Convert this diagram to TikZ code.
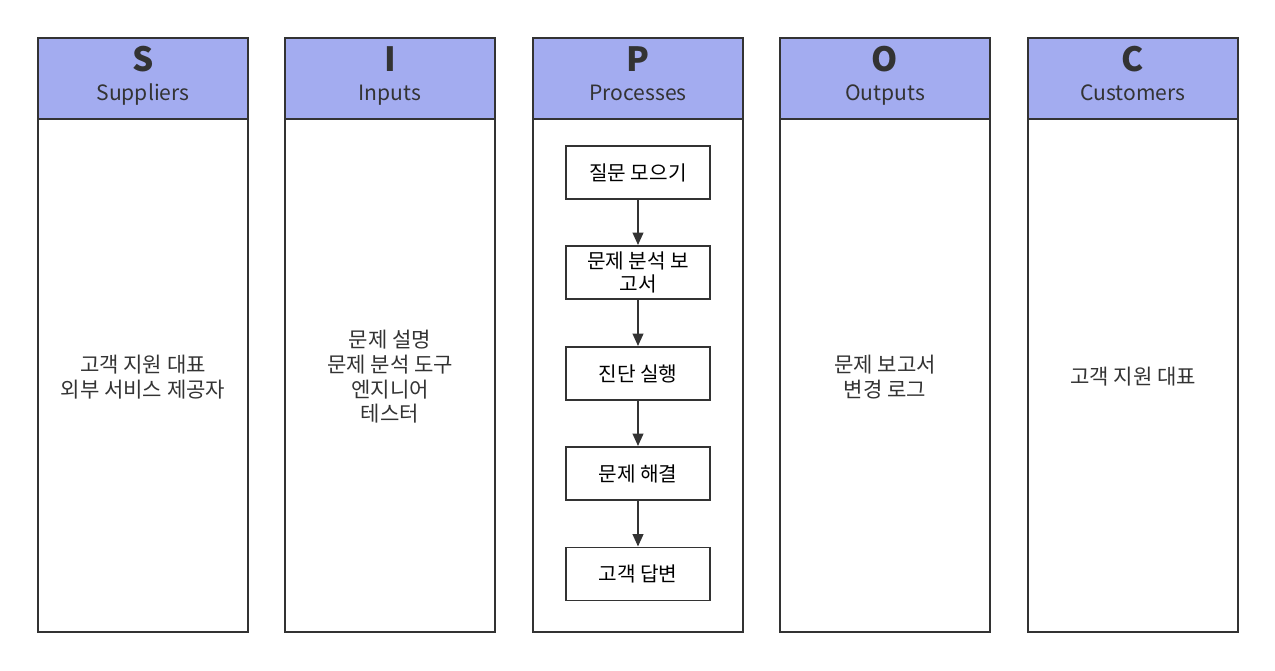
\documentclass[tikz,border=0pt]{standalone}
\usepackage{fontspec}
\setmainfont{Noto Sans CJK KR}
\usetikzlibrary{arrows.meta}
\definecolor{hd}{HTML}{A3ACF0}
\definecolor{ln}{HTML}{333333}
\begin{document}
\begin{tikzpicture}[x=0.02cm,y=-0.02cm,
  col/.style={draw=ln,line width=1.2pt},
  head/.style={draw=ln,line width=1.2pt,fill=hd},
  pbox/.style={draw=ln,line width=1.1pt,fill=white,minimum width=144*0.02cm,minimum height=53*0.02cm,align=center,font=\fontsize{11.5}{13}\selectfont,inner sep=1pt},
  txt/.style={align=center,font=\fontsize{12}{14}\selectfont,text=ln},
  arr/.style={-{Triangle[length=7pt,width=6pt]},draw=ln,line width=1.1pt}]
\useasboundingbox (0,0) rectangle (1275,670);
\foreach \x/\L/\T [count=\i] in {38/S/Suppliers,285/I/Inputs,533/P/Processes,780/O/Outputs,1028/C/Customers}{
  \draw[col] (\x,119) rectangle (\x+210,632);
  \draw[head] (\x,38) rectangle (\x+210,119);
  \node[font=\bfseries\fontsize{19}{20}\selectfont,text=ln,anchor=base] (L\i) at (\x+105,71) {\L};
  \node[font=\fontsize{12}{14}\selectfont,text=ln,anchor=base] (T\i) at (\x+105,100) {\T};
}
\node[txt] (s) at (143,377) {고객 지원 대표\\외부 서비스 제공자};
\node[txt] (i) at (390,377) {문제 설명\\문제 분석 도구\\엔지니어\\테스터};
\node[txt] (o) at (885,377) {문제 보고서\\변경 로그};
\node[txt] (c) at (1133,377) {고객 지원 대표};
\node[pbox] (p1) at (638,172.5) {질문 모으기};
\node[pbox] (p2) at (638,272.5) {문제 분석 보\\고서};
\node[pbox] (p3) at (638,373.5) {진단 실행};
\node[pbox] (p4) at (638,473.5) {문제 해결};
\node[pbox] (p5) at (638,574) {고객 답변};
\draw[arr] (p1) -- (p2);
\draw[arr] (p2) -- (p3);
\draw[arr] (p3) -- (p4);
\draw[arr] (p4) -- (p5);
\end{tikzpicture}
\end{document}
